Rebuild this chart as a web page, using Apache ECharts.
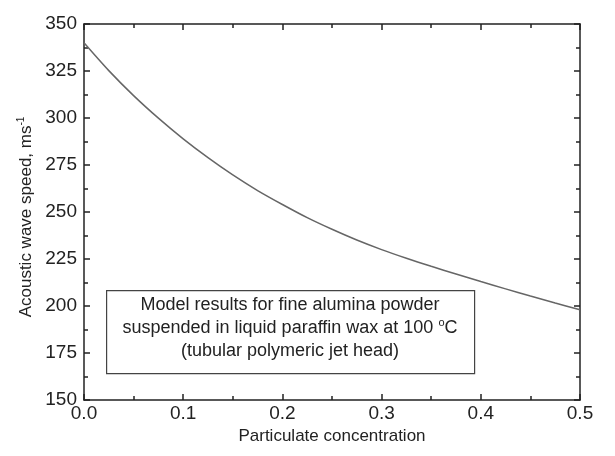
<!DOCTYPE html>
<html>
<head>
<meta charset="utf-8">
<script src="https://cdn.jsdelivr.net/npm/echarts@6/dist/echarts.min.js"></script>
<style>
  html, body { margin: 0; padding: 0; background: #fff; }
  #chart { width: 615px; height: 456px; }
</style>
</head>
<body>
<div id="chart"></div>
<script>
// 读图得到的数据
const concentration = [0, 0.025, 0.05, 0.075, 0.1, 0.125, 0.15, 0.175, 0.2, 0.225, 0.25,
  0.275, 0.3, 0.325, 0.35, 0.375, 0.4, 0.425, 0.45, 0.475, 0.5];
const waveSpeed = [340, 325.2, 311.9, 299.9, 288.9, 278.9, 269.7, 261.4, 254, 247, 240.8,
  235.1, 230, 225.4, 221.1, 217, 213, 209.1, 205.3, 201.6, 198];
const boxLines = [
  'Model results for fine alumina powder',
  'suspended in liquid paraffin wax at 100 {sup|o}C',
  '(tubular polymeric jet head)',
];

const axisColor = '#222';
const fontFamily = 'Liberation Sans, Arial, sans-serif';

const chart = echarts.init(document.getElementById('chart'));

const lineStyle = { color: axisColor, width: 1.5 };
const tickStyle = {
  axisLine: { show: true, onZero: false, lineStyle },
  axisTick: { show: true, inside: true, length: 6, lineStyle },
  minorTick: { show: true, splitNumber: 2, length: 4, lineStyle },
  splitLine: { show: false },
};

chart.setOption({
  animation: false,
  grid: { left: 84, right: 35, top: 24, bottom: 56 },
  xAxis: [
    {
      type: 'value',
      min: 0,
      max: 0.5,
      interval: 0.1,
      ...tickStyle,
      name: 'Particulate concentration',
      nameLocation: 'middle',
      nameGap: 26,
      nameTextStyle: { color: axisColor, fontSize: 17, fontFamily },
      axisLabel: {
        color: axisColor, fontSize: 19, fontFamily, margin: 4,
        formatter: (v) => v.toFixed(1),
      },
    },
    {
      type: 'value', position: 'top', min: 0, max: 0.5, interval: 0.1,
      ...tickStyle, axisLabel: { show: false },
    },
  ],
  yAxis: [
    {
      type: 'value',
      min: 150,
      max: 350,
      interval: 25,
      ...tickStyle,
      name: 'Acoustic wave speed, ms{sup|-1}',
      nameLocation: 'middle',
      nameGap: 46,
      nameTextStyle: {
        color: axisColor, fontSize: 17, fontFamily,
        padding: [0, 10, 0, 0],
        rich: {
          sup: { fontSize: 10, verticalAlign: 'top', padding: [0, 0, 9, 0], color: axisColor, fontFamily },
        },
      },
      axisLabel: { color: axisColor, fontSize: 19, fontFamily, margin: 7 },
    },
    {
      type: 'value', position: 'right', min: 150, max: 350, interval: 25,
      ...tickStyle, axisLabel: { show: false },
    },
  ],
  series: [
    {
      type: 'line',
      data: concentration.map((c, i) => [c, waveSpeed[i]]),
      smooth: 0.3,
      showSymbol: false,
      lineStyle: { color: '#666', width: 1.5 },
    },
  ],
  graphic: [
    {
      type: 'rect',
      left: 106,
      top: 290,
      shape: { width: 368, height: 83 },
      style: { fill: '#fff', stroke: '#444', lineWidth: 1.2 },
    },
    {
      type: 'text',
      x: 290,
      y: 294,
      style: {
        text: boxLines.join('\n'),
        align: 'center',
        verticalAlign: 'top',
        fontSize: 18,
        lineHeight: 23,
        fontFamily,
        fill: axisColor,
        rich: {
          sup: { fontSize: 11, verticalAlign: 'top', padding: [0, 0, 9, 0], fill: axisColor, fontFamily },
        },
      },
    },
  ],
});
</script>
</body>
</html>
